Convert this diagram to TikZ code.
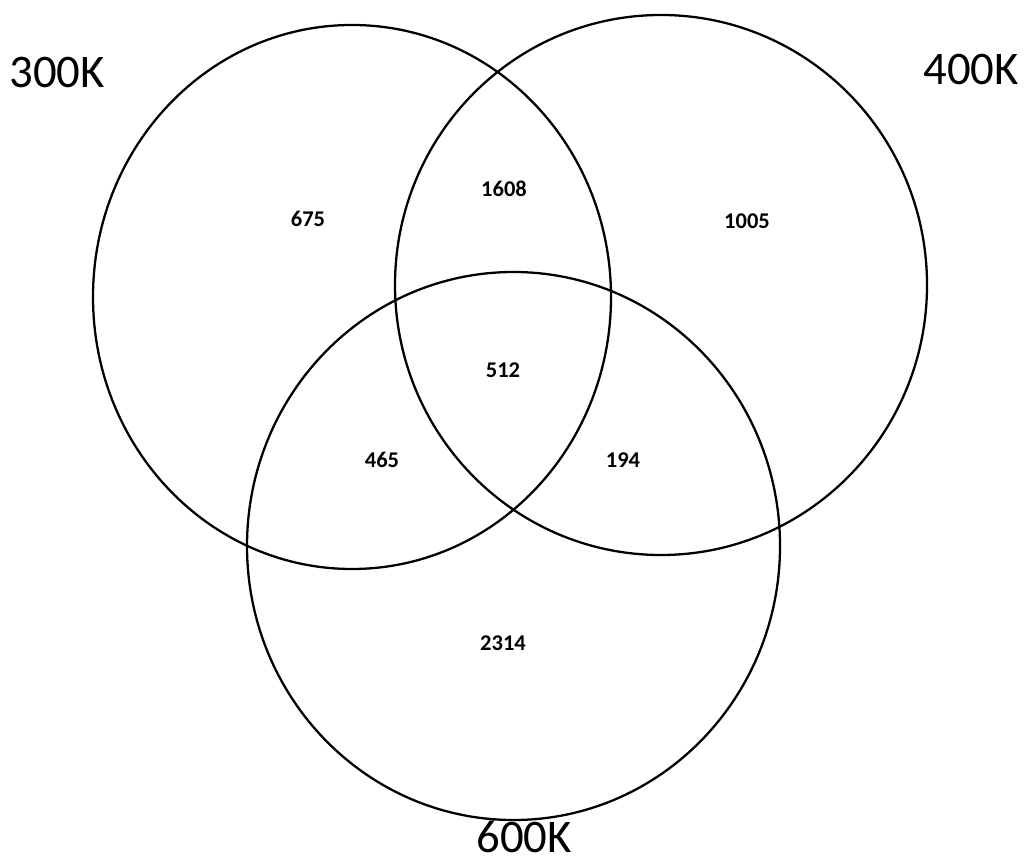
\documentclass[tikz,border=0pt]{standalone}
\usepackage{fontspec}
\setmainfont{Carlito}
\tikzset{
  setname/.style={font=\fontsize{13.3}{16}\selectfont, inner sep=0pt},
  count/.style={font=\fontsize{6.4}{8}\selectfont\bfseries}
}
\begin{document}
\begin{tikzpicture}
  \useasboundingbox (0,0) rectangle (10.26,-8.64);
  \draw[line width=0.65pt] (3.52,-2.97) ellipse (2.59 and 2.72);
  \draw[line width=0.65pt] (6.61,-2.85) ellipse (2.66 and 2.70);
  \draw[line width=0.65pt] (5.135,-5.46) ellipse (2.665 and 2.74);
  \node[setname] (lblA) at (0.57,-0.73) {300K};
  \node[setname] (lblB) at (9.71,-0.70) {400K};
  \node[setname] (lblC) at (5.24,-8.37) {600K};
  \node[count] (onlyA) at (3.08,-2.19) {675};
  \node[count] (onlyB) at (7.47,-2.21) {1005};
  \node[count] (onlyC) at (5.03,-6.43) {2314};
  \node[count] (AB) at (5.04,-1.89) {1608};
  \node[count] (ABC) at (5.03,-3.70) {512};
  \node[count] (AC) at (3.82,-4.60) {465};
  \node[count] (BC) at (6.23,-4.60) {194};
\end{tikzpicture}
\end{document}
